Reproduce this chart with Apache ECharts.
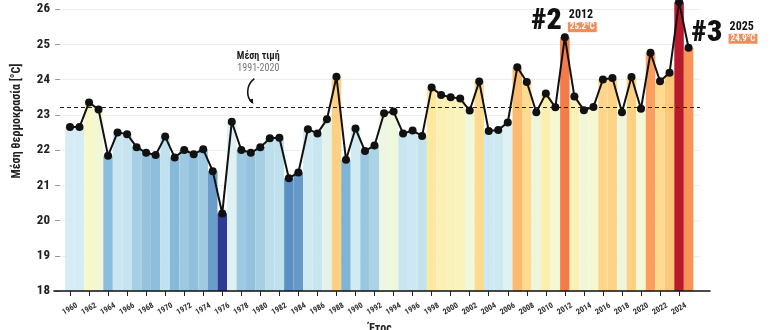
<!DOCTYPE html>
<html>
<head>
<meta charset="utf-8">
<script src="https://cdn.jsdelivr.net/npm/echarts@6/dist/echarts.min.js"></script>
<style>
  html, body { margin: 0; padding: 0; background: #ffffff; }
  #chart { width: 770px; height: 330px; }
</style>
</head>
<body>
<div id="chart"></div>
<script>
// Annual mean temperature (°C), 1960–2025
const years = [
  1960, 1961, 1962, 1963, 1964, 1965, 1966, 1967, 1968, 1969,
  1970, 1971, 1972, 1973, 1974, 1975, 1976, 1977, 1978, 1979,
  1980, 1981, 1982, 1983, 1984, 1985, 1986, 1987, 1988, 1989,
  1990, 1991, 1992, 1993, 1994, 1995, 1996, 1997, 1998, 1999,
  2000, 2001, 2002, 2003, 2004, 2005, 2006, 2007, 2008, 2009,
  2010, 2011, 2012, 2013, 2014, 2015, 2016, 2017, 2018, 2019,
  2020, 2021, 2022, 2023, 2024, 2025
];
const temps = [
  22.65, 22.65, 23.35, 23.15, 21.84, 22.50, 22.45, 22.08, 21.92, 21.86,
  22.38, 21.79, 22.00, 21.88, 22.02, 21.40, 20.20, 22.80, 22.00, 21.92,
  22.08, 22.33, 22.35, 21.20, 21.36, 22.59, 22.47, 22.87, 24.08, 21.72,
  22.61, 21.97, 22.13, 23.04, 23.09, 22.47, 22.55, 22.40, 23.77, 23.56,
  23.50, 23.46, 23.12, 23.94, 22.54, 22.57, 22.78, 24.35, 23.93, 23.07,
  23.60, 23.21, 25.20, 23.52, 23.13, 23.22, 24.00, 24.04, 23.07, 24.07,
  23.17, 24.76, 23.95, 24.19, 26.20, 24.90
];
const tickYears = [
  1960, 1962, 1964, 1966, 1968, 1970, 1972, 1974, 1976, 1978, 1980,
  1982, 1984, 1986, 1988, 1990, 1992, 1994, 1996, 1998, 2000, 2002,
  2004, 2006, 2008, 2010, 2012, 2014, 2016, 2018, 2020, 2022, 2024
];
const meanValue = 23.2;          // 1991-2020 reference mean
const highlightYears = [2012, 2025];

// Diverging temperature palette (cold blue -> warm red)
const stripeColors = [
  '#2f3a94', '#4666ac', '#5d90c4', '#80b4d6', '#b6dbea', '#dcf0f6', '#f7fad0',
  '#fee9a0', '#fdc173', '#fc9d5c', '#f37547', '#dc4530', '#b0102a'
];

const FONT = "'Roboto Condensed', 'Liberation Sans Narrow', Roboto, sans-serif";
const points = years.map((y, i) => [y, temps[i]]);

const chart = echarts.init(document.getElementById('chart'), null, { renderer: 'canvas' });

const option = {
  backgroundColor: '#ffffff',
  animation: false,
  textStyle: { fontFamily: FONT },
  grid: [
    { left: 60, right: 70, top: 9, bottom: 39, outerBoundsMode: 'none', containLabel: false },
    { left: 54, right: 60, top: 9, bottom: 39, outerBoundsMode: 'none', containLabel: false }
  ],
  visualMap: {
    show: false,
    type: 'continuous',
    seriesIndex: 0,
    dimension: 1,
    min: 20.2,
    max: 26.3,
    inRange: { color: stripeColors }
  },
  xAxis: [
    {
      gridIndex: 0,
      type: 'value',
      min: 1958.95,
      max: 2026.2,
      name: 'Έτος',
      nameLocation: 'middle',
      nameGap: 30,
      nameTextStyle: { fontFamily: FONT, fontWeight: 'bold', fontSize: 12, color: '#222' },
      axisLine: { show: false },
      splitLine: { show: false },
      axisTick: {
        show: true,
        customValues: tickYears,
        length: 5,
        lineStyle: { color: '#222', width: 1 }
      },
      axisLabel: {
        customValues: tickYears,
        formatter: v => String(v),
        rotate: 30,
        align: 'center',
        verticalAlign: 'middle',
        margin: 18,
        fontSize: 8,
        fontWeight: 'bold',
        color: '#333',
        fontFamily: FONT
      },
      z: 10
    },
    {
      gridIndex: 1,
      type: 'value',
      min: 0,
      max: 1,
      axisLine: { show: true, onZero: false, lineStyle: { color: '#111', width: 1.6 } },
      axisTick: { show: false },
      axisLabel: { show: false },
      splitLine: { show: false },
      z: 10
    }
  ],
  yAxis: [
    {
      gridIndex: 0,
      type: 'value',
      min: 18,
      max: 26,
      startValue: 18,
      interval: 1,
      axisLine: { show: false },
      axisTick: { show: true, length: 5, lineStyle: { color: '#999' } },
      axisLabel: { fontSize: 13, fontWeight: 'bold', color: '#222', margin: 10, fontFamily: FONT },
      splitLine: { show: true, lineStyle: { color: '#ececec', width: 1 } }
    },
    { gridIndex: 1, type: 'value', min: 0, max: 1, show: false }
  ],
  series: [
    {
      name: 'stripes',
      type: 'bar',
      xAxisIndex: 0,
      yAxisIndex: 0,
      data: points,
      barWidth: '100%',
      clip: false,
      z: 1
    },
    {
      name: 'temperature',
      type: 'line',
      xAxisIndex: 0,
      yAxisIndex: 0,
      data: points,
      clip: false,
      symbol: 'circle',
      symbolSize: 8,
      itemStyle: { color: '#111' },
      lineStyle: { color: '#111', width: 2 },
      z: 5,
      markLine: {
        silent: true,
        symbol: ['none', 'none'],
        label: { show: false },
        lineStyle: { color: '#222', width: 1, type: [4, 3] },
        data: [{ yAxis: meanValue }]
      }
    }
  ]
};

chart.setOption(option);

// Annotations placed relative to the data they describe
const toPx = (x, y) => chart.convertToPixel({ gridIndex: 0 }, [x, y]);
const sorted = temps.slice().sort((a, b) => b - a);
const graphics = [];

// y-axis title
graphics.push({
  type: 'text',
  x: 17, y: 121,
  rotation: Math.PI / 2,
  style: {
    text: 'Μέση θερμοκρασία [°C]',
    font: "bold 12px " + FONT,
    fill: '#222',
    align: 'center',
    verticalAlign: 'middle'
  }
});

// Mean line note with curved arrow
const a = toPx(1980, meanValue);
graphics.push({
  type: 'text', x: a[0] - 2, y: a[1] - 51,
  style: { text: 'Μέση τιμή', font: "bold 10px " + FONT, fill: '#222', align: 'center', verticalAlign: 'middle' }
});
graphics.push({
  type: 'text', x: a[0] - 2, y: a[1] - 39,
  style: { text: '1991-2020', font: "10px " + FONT, fill: '#777', align: 'center', verticalAlign: 'middle' }
});
graphics.push({
  type: 'bezierCurve',
  shape: { x1: a[0] - 6, y1: a[1] - 29, cpx1: a[0] - 15, cpy1: a[1] - 22, cpx2: a[0] - 14, cpy2: a[1] - 10, x2: a[0] - 8, y2: a[1] - 5 },
  style: { stroke: '#111', lineWidth: 1.6, fill: null }
});
graphics.push({
  type: 'polygon',
  shape: { points: [[a[0] - 7, a[1] - 3.5], [a[0] - 11.5, a[1] - 8], [a[0] - 7.5, a[1] - 9]] },
  style: { fill: '#111' }
});

// Ranked year call-outs
const calloutLayout = {
  2012: { rankDx: -3, rankAlign: 'right', rankDy: -16, infoDx: 3, infoDy: -22 },
  2025: { rankDx: 3, rankAlign: 'left', rankDy: -14, infoDx: 40, infoDy: -21 }
};
highlightYears.forEach(yr => {
  const v = temps[years.indexOf(yr)];
  const rank = sorted.indexOf(v) + 1;
  const p = toPx(yr, v);
  const L = calloutLayout[yr];
  graphics.push({
    type: 'text', x: p[0] + L.rankDx, y: p[1] + L.rankDy,
    style: { text: '#' + rank, font: "900 30px " + FONT, fill: '#111', align: L.rankAlign, verticalAlign: 'middle' }
  });
  graphics.push({
    type: 'text', x: p[0] + L.infoDx + 1, y: p[1] + L.infoDy,
    style: { text: String(yr), font: "bold 12px " + FONT, fill: '#111', align: 'left', verticalAlign: 'middle' }
  });
  graphics.push({
    type: 'text', x: p[0] + L.infoDx, y: p[1] + L.infoDy + 12,
    style: {
      text: v.toFixed(1) + '°C',
      font: "bold 9px " + FONT,
      fill: '#ffffff',
      backgroundColor: '#f68b5b',
      padding: [1, 2, 0, 2],
      align: 'left',
      verticalAlign: 'middle'
    }
  });
});

chart.setOption({ graphic: graphics });
</script>
</body>
</html>
